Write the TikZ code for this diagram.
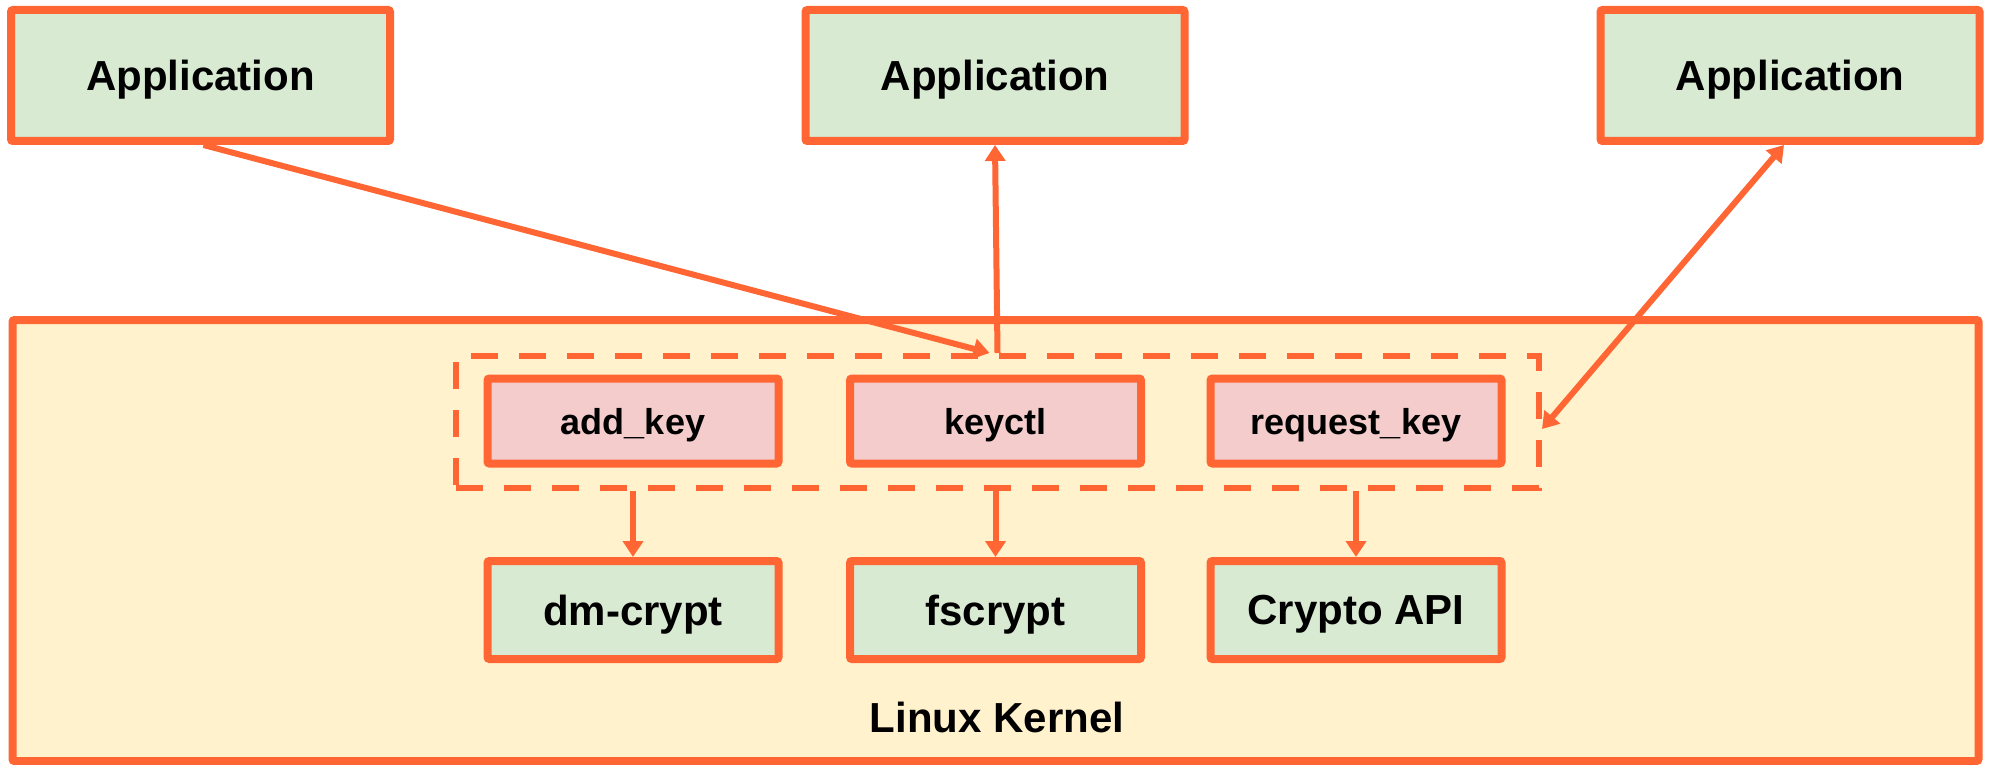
\documentclass[tikz,border=0pt]{standalone}
\usepackage{fontspec}
\setmainfont{Liberation Sans}
\usetikzlibrary{arrows.meta}
\definecolor{edge}{HTML}{FF6633}
\definecolor{greenfill}{HTML}{D9EAD3}
\definecolor{pinkfill}{HTML}{F4CCCC}
\definecolor{kernfill}{HTML}{FFF2CC}
\tikzset{
  x=1pt, y=-1pt,
  box/.style={draw=edge, line width=8pt, rounded corners=2pt, inner sep=0pt,
              text depth=0pt,
              font=\fontsize{42}{50}\selectfont\bfseries, text=black},
  appbox/.style={box, fill=greenfill, minimum width=379pt, minimum height=131pt},
  modbox/.style={box, fill=greenfill, minimum width=291pt, minimum height=98pt},
  callbox/.style={box, fill=pinkfill, minimum width=291pt, minimum height=85pt,
                  font=\fontsize{36}{43}\selectfont\bfseries},
  conn/.style={draw=edge, line width=6pt},
  tip/.style={conn, -{Triangle[width=20pt,length=16pt]}},
  twotip/.style={conn, {Triangle[width=20pt,length=16pt]}-{Triangle[width=20pt,length=16pt]}},
}
\begin{document}
\begin{tikzpicture}
\useasboundingbox (0,0) rectangle (1991,765);

% kernel area
\node[draw=edge, fill=kernfill, line width=8pt, rounded corners=2pt,
      minimum width=1966pt, minimum height=441pt, inner sep=0pt]
      (kernel) at (995.5,540.5) {};
\node[font=\fontsize{42}{50}\selectfont\bfseries] (kernlabel) at (997,717) {Linux Kernel};

% user-space applications
\node[appbox] (app1) at (200.5,75.5) {Application};
\node[appbox] (app2) at (995,75.5) {Application};
\node[appbox] (app3) at (1790,75.5) {Application};

% group of key-management system calls
\node[draw=edge, line width=6pt, dash pattern=on 27pt off 21pt,
      minimum width=1083pt, minimum height=132pt, inner sep=0pt]
      (calls) at (997.5,422) {};

\node[callbox] (addkey) at (633,421) {add\_key};
\node[callbox] (keyctl) at (995.5,421) {keyctl};
\node[callbox] (reqkey) at (1356,421) {request\_key};

% kernel consumers
\node[modbox] (dmcrypt) at (633,610) {dm-crypt};
\node[modbox] (fscrypt) at (995.5,610) {fscrypt};
\node[modbox] (cryptoapi) at (1356,610) {Crypto API};

% connectors
\coordinate (callsin) at ([xshift=-8pt]calls.north);
\draw[tip] ([xshift=3pt]app1.south) -- (callsin);
\draw[tip] (calls.north) -- (app2.south);
\draw[twotip] ([xshift=-6pt]app3.south) -- ([yshift=-7pt]calls.east);

\draw[tip] (calls.south -| addkey) -- (dmcrypt.north);
\draw[tip] (calls.south -| keyctl) -- (fscrypt.north);
\draw[tip] (calls.south -| reqkey) -- (cryptoapi.north);
\end{tikzpicture}
\end{document}
